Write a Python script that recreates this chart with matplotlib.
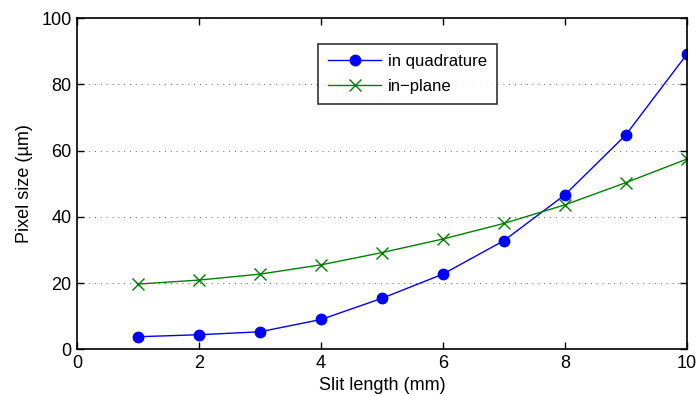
import matplotlib
matplotlib.use('Agg')
import matplotlib.pyplot as plt

# slit length (mm)
slit_length = [1, 2, 3, 4, 5, 6, 7, 8, 9, 10]
# pixel size (um)
quadrature = [3.8, 4.4, 5.3, 9.0, 15.4, 22.7, 32.8, 46.6, 64.7, 89.0]
in_plane = [19.7, 20.9, 22.7, 25.5, 29.2, 33.3, 38.0, 43.6, 50.3, 57.4]

xticks = [0, 2, 4, 6, 8, 10]
yticks = [0, 20, 40, 60, 80, 100]

plt.rcParams['font.family'] = ['Liberation Sans', 'DejaVu Sans']

fig = plt.figure(figsize=(6.98, 3.96), dpi=100)
ax = fig.add_axes([0.1107, 0.1179, 0.8731, 0.8366])

ax.plot(slit_length, quadrature, color='#0000ff', marker='o', markersize=7.5,
        linewidth=1.0, label='in quadrature')
ax.plot(slit_length, in_plane, color='#008000', marker='x', markersize=9,
        markeredgewidth=1.0, linewidth=1.0, label='in\u2212plane')

ax.set_xlim(0, 10)
ax.set_ylim(0, 100)
ax.set_xticks(xticks)
ax.set_yticks(yticks)
ax.tick_params(direction='in', top=True, right=True, length=5, width=1,
               labelsize=13, pad=4)
ax.yaxis.grid(True, linestyle=(0, (1, 5)), color='#666666', linewidth=0.7)
for s in ax.spines.values():
    s.set_linewidth(1.2)

ax.set_xlabel('Slit length (mm)', fontsize=13, labelpad=4)
ax.set_ylabel('Pixel size (\u00b5m)', fontsize=13, labelpad=6)

leg = ax.legend(loc='upper left', bbox_to_anchor=(0.395, 0.922), fontsize=12,
                frameon=True, fancybox=False, edgecolor='black',
                handlelength=3.2, handletextpad=0.4, borderpad=0.6,
                labelspacing=0.6, borderaxespad=0)
leg.get_frame().set_linewidth(1.2)

fig.savefig('out.png', dpi=100)
